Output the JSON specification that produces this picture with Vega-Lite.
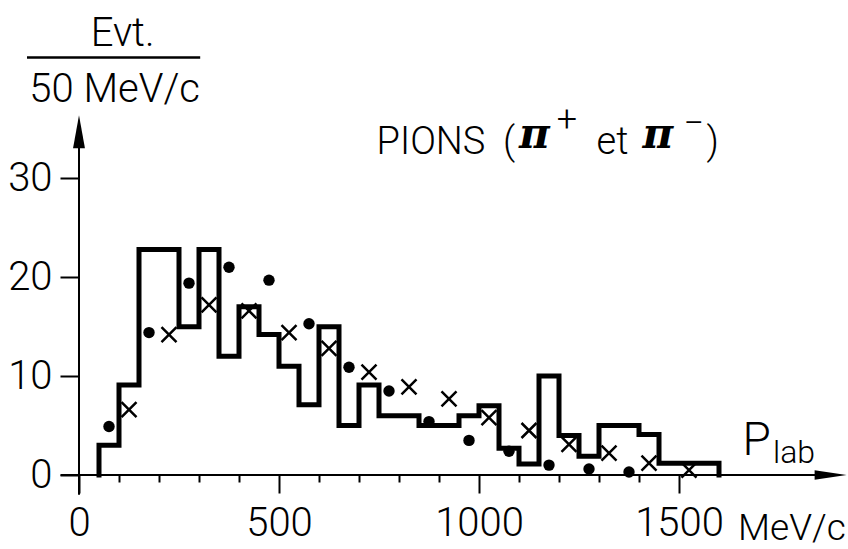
{
  "$schema": "https://vega.github.io/schema/vega-lite/v6.json",
  "width": 760,
  "height": 361,
  "autosize": {"type": "none"},
  "padding": {"left": 79, "top": 114, "right": 9, "bottom": 74},
  "background": "white",
  "config": {
    "view": {"stroke": null},
    "axis": {"domain": false, "grid": false, "tickColor": "black", "tickWidth": 2, "labelColor": "black", "labelFont": "Roboto", "labelFontSize": 40, "labelFontWeight": 300, "title": null, "labelFlush": false, "labelOverlap": false},
    "text": {"font": "Roboto", "fontWeight": 300, "color": "black"}
  },
  "datasets": {
    "hist": [
      {"i": 0, "p": 50, "n": 0},
      {"i": 1, "p": 50, "n": 3},
      {"i": 2, "p": 100, "n": 9.1},
      {"i": 3, "p": 150, "n": 22.8},
      {"i": 4, "p": 250, "n": 15},
      {"i": 5, "p": 300, "n": 22.8},
      {"i": 6, "p": 350, "n": 12},
      {"i": 7, "p": 400, "n": 17},
      {"i": 8, "p": 450, "n": 14.2},
      {"i": 9, "p": 500, "n": 11},
      {"i": 10, "p": 550, "n": 7.1},
      {"i": 11, "p": 600, "n": 15},
      {"i": 12, "p": 650, "n": 5},
      {"i": 13, "p": 700, "n": 9.1},
      {"i": 14, "p": 750, "n": 6},
      {"i": 15, "p": 850, "n": 5},
      {"i": 16, "p": 950, "n": 6},
      {"i": 17, "p": 1000, "n": 7},
      {"i": 18, "p": 1050, "n": 2.7},
      {"i": 19, "p": 1100, "n": 1.1},
      {"i": 20, "p": 1150, "n": 10},
      {"i": 21, "p": 1200, "n": 4},
      {"i": 22, "p": 1250, "n": 1.9},
      {"i": 23, "p": 1300, "n": 5},
      {"i": 24, "p": 1400, "n": 4.1},
      {"i": 25, "p": 1450, "n": 1.2},
      {"i": 26, "p": 1600, "n": 0}
    ],
    "dots": [
      {"p": 75, "n": 4.9},
      {"p": 175, "n": 14.4},
      {"p": 275, "n": 19.4},
      {"p": 375, "n": 21.0},
      {"p": 475, "n": 19.7},
      {"p": 575, "n": 15.3},
      {"p": 675, "n": 10.9},
      {"p": 775, "n": 8.5},
      {"p": 875, "n": 5.4},
      {"p": 975, "n": 3.5},
      {"p": 1075, "n": 2.4},
      {"p": 1175, "n": 1.0},
      {"p": 1275, "n": 0.6},
      {"p": 1375, "n": 0.3}
    ],
    "crosses": [
      {"p": 125, "n": 6.6},
      {"p": 225, "n": 14.2},
      {"p": 325, "n": 17.2},
      {"p": 425, "n": 16.6},
      {"p": 525, "n": 14.4},
      {"p": 625, "n": 12.8},
      {"p": 725, "n": 10.4},
      {"p": 825, "n": 8.9},
      {"p": 925, "n": 7.7},
      {"p": 1025, "n": 5.8},
      {"p": 1125, "n": 4.5},
      {"p": 1225, "n": 3.1},
      {"p": 1325, "n": 2.2},
      {"p": 1425, "n": 1.2},
      {"p": 1525, "n": 0.5}
    ],
    "title": [
      {"t": "PIONS", "x": 744, "y": 32.5},
      {"t": "(", "x": 1060, "y": 32.5},
      {"t": "et", "x": 1294, "y": 32.5},
      {"t": ")", "x": 1569, "y": 32.5}
    ],
    "pi": [
      {"t": "π", "x": 1100, "y": 33.1},
      {"t": "π", "x": 1409, "y": 33.1}
    ],
    "sup": [
      {"t": "+", "x": 1220, "y": 35.9},
      {"t": "−", "x": 1537, "y": 35.5}
    ],
    "ytitle": [
      {"t": "Evt.", "x": 109, "y": 43.4},
      {"t": "50  MeV/c", "x": 89, "y": 37.7}
    ],
    "unit": [
      {"t": "MeV/c", "x": 1917, "y": -6.6}
    ],
    "plab": [
      {"t": "P", "x": 1659, "y": 2.0}
    ],
    "lab": [
      {"t": "lab", "x": 1735, "y": 1.2}
    ]
  },
  "layer": [
    {
      "data": {"name": "hist"},
      "mark": {"type": "line", "interpolate": "step-after", "color": "black", "strokeWidth": 5, "strokeJoin": "miter", "strokeCap": "square"},
      "encoding": {
        "x": {"field": "p", "type": "quantitative", "scale": {"domain": [0, 1900], "nice": false, "zero": false},
          "axis": {"values": [0,100,200,300,400,500,600,700,800,900,1000,1100,1200,1300,1400,1500],
            "tickSize": {"condition": {"test": "datum.value % 500 === 0", "value": 18}, "value": 7},
            "labelExpr": "datum.value % 500 === 0 ? datum.label : ''",
            "labelPadding": 10, "format": "d"}},
        "y": {"field": "n", "type": "quantitative", "scale": {"domain": [0, 36.5], "nice": false, "zero": false},
          "axis": {"values": [0, 10, 20, 30], "tickSize": 19, "labelPadding": 8}},
        "order": {"field": "i", "type": "quantitative"}
      }
    },
    {
      "data": {"values": [{}]},
      "mark": {"type": "rule", "color": "black", "strokeWidth": 2},
      "encoding": {"x": {"datum": -46, "type": "quantitative"}, "x2": {"datum": 1850}, "y": {"datum": 0, "type": "quantitative"}}
    },
    {
      "data": {"values": [{}]},
      "mark": {"type": "rule", "color": "black", "strokeWidth": 2},
      "encoding": {"x": {"datum": 0, "type": "quantitative"}, "y": {"datum": -2, "type": "quantitative"}, "y2": {"datum": 34}}
    },
    {
      "data": {"values": [{}]},
      "mark": {"type": "point", "shape": "M0,-1L0.36,1L-0.36,1Z", "filled": true, "color": "black", "size": 1089, "opacity": 1},
      "encoding": {"x": {"datum": 0, "type": "quantitative"}, "y": {"datum": 34.7, "type": "quantitative"}}
    },
    {
      "data": {"values": [{}]},
      "mark": {"type": "point", "shape": "M1,0L-1,-0.3L-1,0.3Z", "filled": true, "color": "black", "size": 1024, "opacity": 1},
      "encoding": {"x": {"datum": 1879, "type": "quantitative"}, "y": {"datum": 0, "type": "quantitative"}}
    },
    {
      "data": {"values": [{}]},
      "mark": {"type": "rule", "color": "black", "strokeWidth": 2.5},
      "encoding": {"x": {"datum": -130, "type": "quantitative"}, "x2": {"datum": 303}, "y": {"datum": 42.2, "type": "quantitative"}}
    },
    {
      "data": {"name": "dots"},
      "mark": {"type": "point", "shape": "circle", "filled": true, "color": "black", "size": 130, "opacity": 1},
      "encoding": {"x": {"field": "p", "type": "quantitative"}, "y": {"field": "n", "type": "quantitative"}}
    },
    {
      "data": {"name": "crosses"},
      "mark": {"type": "point", "shape": "M-1,-1L1,1M1,-1L-1,1", "filled": false, "color": "black", "strokeWidth": 2.5, "size": 225, "opacity": 1},
      "encoding": {"x": {"field": "p", "type": "quantitative"}, "y": {"field": "n", "type": "quantitative"}}
    },
    {
      "data": {"name": "title"},
      "mark": {"type": "text", "fontSize": 38, "align": "left", "baseline": "alphabetic"},
      "encoding": {"x": {"field": "x", "type": "quantitative"}, "y": {"field": "y", "type": "quantitative"}, "text": {"field": "t"}}
    },
    {
      "data": {"name": "pi"},
      "mark": {"type": "text", "fontSize": 42, "align": "left", "baseline": "alphabetic", "font": "DejaVu Serif", "fontWeight": "bold", "fontStyle": "italic"},
      "encoding": {"x": {"field": "x", "type": "quantitative"}, "y": {"field": "y", "type": "quantitative"}, "text": {"field": "t"}}
    },
    {
      "data": {"name": "sup"},
      "mark": {"type": "text", "fontSize": 36, "align": "center", "baseline": "middle"},
      "encoding": {"x": {"field": "x", "type": "quantitative"}, "y": {"field": "y", "type": "quantitative"}, "text": {"field": "t"}}
    },
    {
      "data": {"name": "ytitle"},
      "mark": {"type": "text", "fontSize": 40, "align": "center", "baseline": "alphabetic"},
      "encoding": {"x": {"field": "x", "type": "quantitative"}, "y": {"field": "y", "type": "quantitative"}, "text": {"field": "t"}}
    },
    {
      "data": {"name": "unit"},
      "mark": {"type": "text", "fontSize": 37, "align": "right", "baseline": "alphabetic"},
      "encoding": {"x": {"field": "x", "type": "quantitative"}, "y": {"field": "y", "type": "quantitative"}, "text": {"field": "t"}}
    },
    {
      "data": {"name": "plab"},
      "mark": {"type": "text", "fontSize": 46, "align": "left", "baseline": "alphabetic"},
      "encoding": {"x": {"field": "x", "type": "quantitative"}, "y": {"field": "y", "type": "quantitative"}, "text": {"field": "t"}}
    },
    {
      "data": {"name": "lab"},
      "mark": {"type": "text", "fontSize": 32, "align": "left", "baseline": "alphabetic"},
      "encoding": {"x": {"field": "x", "type": "quantitative"}, "y": {"field": "y", "type": "quantitative"}, "text": {"field": "t"}}
    }
  ]
}
